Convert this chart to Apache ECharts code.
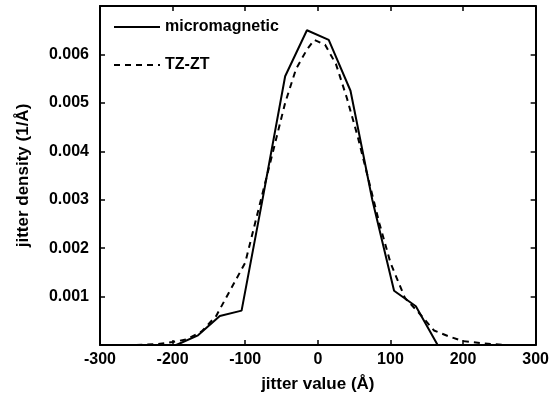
<!DOCTYPE html>
<html>
<head>
<meta charset="utf-8">
<script src="https://cdn.jsdelivr.net/npm/echarts@6/dist/echarts.min.js"></script>
<style>html,body{margin:0;padding:0;background:#fff;}#c{width:552px;height:398px;}</style>
</head>
<body>
<div id="c"></div>
<script>
// micromagnetic (solid)
var microX = [-195, -165, -135, -105, -75, -45, -15, 15, 45, 75, 105, 135, 165];
var microY = [0, 0.0002, 0.0006, 0.00071, 0.0031, 0.00555, 0.0065, 0.0063, 0.00525, 0.0030, 0.00112, 0.0008, 0];
// TZ-ZT (dashed)
var tzX = [-250, -220, -200, -180, -160, -140, -120, -100, -80, -60, -45, -30, -15, -5, 10, 25, 40, 55, 70, 85, 100, 120, 140, 160, 180, 200, 230, 260];
var tzY = [0, 0.00002, 0.00006, 0.00012, 0.00028, 0.0006, 0.00115, 0.0017, 0.0029, 0.0041, 0.0050, 0.0057, 0.0061, 0.0063, 0.0062, 0.0058, 0.0051, 0.0043, 0.0034, 0.0025, 0.0017, 0.00097, 0.00065, 0.0003, 0.00018, 0.00008, 0.00003, 0];
var seriesNames = ['micromagnetic', 'TZ-ZT'];
var xTitle = 'jitter value (Å)';
var yTitle = 'jitter density (1/Å)';

function pairs(xs, ys) { return xs.map(function (x, i) { return [x, ys[i]]; }); }

var font = 'Liberation Sans, Arial, Helvetica, sans-serif';
var chart = echarts.init(document.getElementById('c'), null, { renderer: 'canvas' });
var axLine = { show: true, onZero: false, lineStyle: { color: '#000', width: 2 } };
var tick = { show: true, inside: true, length: 5, lineStyle: { color: '#000', width: 1.5 } };
chart.setOption({
  animation: false,
  backgroundColor: '#fff',
  grid: { left: 100, right: 16, top: 6, bottom: 52 },
  legend: {
    orient: 'vertical', left: 108, top: 14, itemWidth: 46, itemHeight: 12, itemGap: 22,
    itemStyle: { opacity: 0, borderWidth: 0 },
    textStyle: { fontFamily: font, fontWeight: 'bold', fontSize: 16, color: '#000' },
    data: seriesNames
  },
  xAxis: [{
    type: 'value', min: -300, max: 300, interval: 100,
    name: xTitle, nameLocation: 'middle', nameGap: 31,
    nameTextStyle: { fontFamily: font, fontWeight: 'bold', fontSize: 17, color: '#000' },
    axisLine: axLine, axisTick: tick,
    axisLabel: { fontFamily: font, fontWeight: 'bold', fontSize: 16, color: '#000', margin: 7 },
    splitLine: { show: false }
  }, {
    type: 'value', position: 'top', min: -300, max: 300, interval: 100,
    axisLine: axLine, axisTick: tick, axisLabel: { show: false }, splitLine: { show: false }
  }],
  yAxis: [{
    type: 'value', min: 0, max: 0.007, interval: 0.001,
    name: yTitle, nameLocation: 'middle', nameGap: 68,
    nameTextStyle: { fontFamily: font, fontWeight: 'bold', fontSize: 17, color: '#000' },
    axisLine: axLine, axisTick: tick,
    axisLabel: {
      fontFamily: font, fontWeight: 'bold', fontSize: 16, color: '#000', margin: 11,
      formatter: function (v) { return (v <= 0 || v >= 0.0069) ? '' : v.toFixed(3); }
    },
    splitLine: { show: false }
  }, {
    type: 'value', position: 'right', min: 0, max: 0.007, interval: 0.001,
    axisLine: axLine, axisTick: tick, axisLabel: { show: false }, splitLine: { show: false }
  }],
  series: [{
    name: seriesNames[0], type: 'line', symbol: 'none', showSymbol: false, xAxisIndex: 0, yAxisIndex: 0,
    data: pairs(microX, microY),
    lineStyle: { color: '#000', width: 2, type: 'solid' }, itemStyle: { color: '#000' }
  }, {
    name: seriesNames[1], type: 'line', symbol: 'none', showSymbol: false, xAxisIndex: 0, yAxisIndex: 0,
    data: pairs(tzX, tzY),
    lineStyle: { color: '#000', width: 2, type: [6, 5] }, itemStyle: { color: '#000' }
  }]
});
</script>
</body>
</html>
